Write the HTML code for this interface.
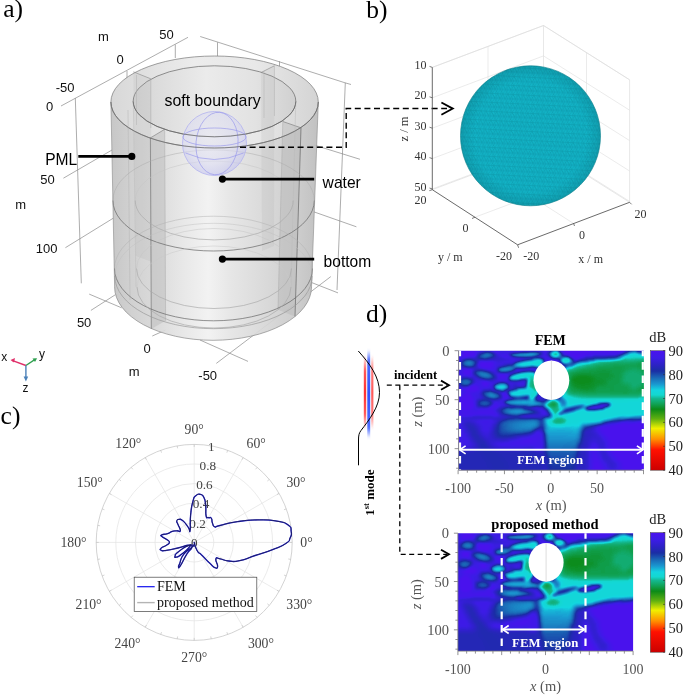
<!DOCTYPE html><html><head><meta charset="utf-8"><style>html,body{margin:0;padding:0;background:#fff;}svg{display:block;} text{opacity:0.999}</style></head><body>
<svg width="685" height="696" viewBox="0 0 685 696">
<rect width="685" height="696" fill="#fff"/>
<text x="3.2" y="16.8" font-family='"Liberation Serif", serif' font-size="25.5" fill="#000" text-anchor="start" font-weight="normal" font-style="normal" >a)</text>
<line x1="61" y1="106" x2="188" y2="37.3" stroke="#8a8a8a" stroke-width="0.7" />
<line x1="200.2" y1="36.5" x2="345" y2="82.8" stroke="#8a8a8a" stroke-width="0.7" />
<line x1="345" y1="82.8" x2="351" y2="84.5" stroke="#8a8a8a" stroke-width="0.7" />
<line x1="75.3" y1="98" x2="81.3" y2="283.3" stroke="#8a8a8a" stroke-width="0.7" />
<line x1="127" y1="71" x2="127" y2="95" stroke="#8a8a8a" stroke-width="0.7" />
<line x1="175.3" y1="44.5" x2="175.3" y2="58" stroke="#8a8a8a" stroke-width="0.7" />
<line x1="217.5" y1="42.3" x2="217.5" y2="56" stroke="#8a8a8a" stroke-width="0.7" />
<line x1="279.5" y1="61.3" x2="279.5" y2="66" stroke="#8a8a8a" stroke-width="0.7" />
<line x1="345.3" y1="82.8" x2="337" y2="290" stroke="#8a8a8a" stroke-width="0.7" />
<line x1="63.4" y1="178.2" x2="112" y2="150" stroke="#8a8a8a" stroke-width="0.7" />
<line x1="65.4" y1="247.7" x2="113.4" y2="218.1" stroke="#8a8a8a" stroke-width="0.7" />
<line x1="90.9" y1="310.4" x2="115.4" y2="294.7" stroke="#8a8a8a" stroke-width="0.7" />
<line x1="314" y1="211.9" x2="356.4" y2="226.8" stroke="#8a8a8a" stroke-width="0.7" />
<line x1="314" y1="145" x2="360" y2="159.3" stroke="#8a8a8a" stroke-width="0.7" />
<line x1="312" y1="282.7" x2="338" y2="292.9" stroke="#8a8a8a" stroke-width="0.7" />
<line x1="89.2" y1="294.1" x2="121.6" y2="307.8" stroke="#8a8a8a" stroke-width="0.7" />
<line x1="216.3" y1="363.4" x2="330.8" y2="276.6" stroke="#8a8a8a" stroke-width="0.7" />
<line x1="200" y1="340" x2="248" y2="361.4" stroke="#8a8a8a" stroke-width="0.7" />
<line x1="152.3" y1="336" x2="165.6" y2="330" stroke="#8a8a8a" stroke-width="0.7" />
<defs>
<linearGradient id="cylg" x1="111" y1="0" x2="318" y2="0" gradientUnits="userSpaceOnUse">
<stop offset="0" stop-color="#c2c2c2"/><stop offset="0.08" stop-color="#cbcbcb"/><stop offset="0.2" stop-color="#d6d6d6"/>
<stop offset="0.35" stop-color="#e6e6e6"/><stop offset="0.47" stop-color="#f1f1f1"/><stop offset="0.58" stop-color="#e4e4e4"/>
<stop offset="0.75" stop-color="#d6d6d6"/><stop offset="0.9" stop-color="#c9c9c9"/><stop offset="1" stop-color="#bcbcbc"/>
</linearGradient>
<linearGradient id="topg" x1="111" y1="0" x2="318" y2="0" gradientUnits="userSpaceOnUse">
<stop offset="0" stop-color="#d8d8d8"/><stop offset="0.4" stop-color="#ececec"/><stop offset="0.7" stop-color="#e8e8e8"/><stop offset="1" stop-color="#d4d4d4"/>
</linearGradient>
<linearGradient id="inng" x1="133" y1="0" x2="296" y2="0" gradientUnits="userSpaceOnUse">
<stop offset="0" stop-color="#d4d4d4"/><stop offset="0.45" stop-color="#ebebeb"/><stop offset="0.75" stop-color="#e2e2e2"/><stop offset="1" stop-color="#d0d0d0"/>
</linearGradient>
<radialGradient id="sphg" cx="0.45" cy="0.4" r="0.6">
<stop offset="0" stop-color="#e8e8f2"/><stop offset="0.7" stop-color="#dadaf0"/><stop offset="1" stop-color="#c4c4ee"/>
</radialGradient>
</defs>
<path d="M110.9,102 L114.6,287 A98.45,53.3 0 0 0 311.5,287 L318.3,102 Z" fill="url(#cylg)" fill-opacity="0.92"/>
<ellipse cx="214.6" cy="102" rx="103.7" ry="46" fill="url(#topg)" stroke="#777" stroke-width="0.7"/>
<ellipse cx="214.5" cy="101.3" rx="81.3" ry="35.5" fill="url(#inng)" stroke="#666" stroke-width="0.7"/>
<path d="M133.3,71.8 L150.8,78.8 L152,262 L136,256 Z" fill="#a8a8a8" fill-opacity="0.16"/>
<path d="M261,72.5 L274.4,65.8 L274,246 L262,251 Z" fill="#a8a8a8" fill-opacity="0.16"/>
<line x1="136.5" y1="75" x2="136.5" y2="125" stroke="#b0b0b0" stroke-width="0.5" />
<line x1="150.8" y1="78.8" x2="150.8" y2="128" stroke="#aaa" stroke-width="0.5" />
<line x1="264" y1="71" x2="264" y2="118" stroke="#b0b0b0" stroke-width="0.5" />
<line x1="274.4" y1="65.8" x2="274.4" y2="116" stroke="#aaa" stroke-width="0.5" />
<path d="M150.4,137.9 L164.7,129.3 L165.6,320.7 L151.3,328.9 Z" fill="#b8b8b8" fill-opacity="0.45"/>
<path d="M282.8,121.5 L301,127.8 L295,316.5 L278,309.8 Z" fill="#b0b0b0" fill-opacity="0.35"/>
<line x1="150.4" y1="137.9" x2="151.3" y2="328.9" stroke="#777" stroke-width="0.7" />
<line x1="164.7" y1="129.3" x2="165.6" y2="320.7" stroke="#aaa" stroke-width="0.5" />
<line x1="301" y1="127.8" x2="295" y2="316.5" stroke="#666" stroke-width="0.7" />
<line x1="282.8" y1="121.5" x2="278" y2="309.8" stroke="#aaa" stroke-width="0.5" />
<line x1="133.3" y1="71.8" x2="150.8" y2="78.8" stroke="#888" stroke-width="0.6" />
<line x1="261" y1="72.5" x2="274.4" y2="65.8" stroke="#888" stroke-width="0.6" />
<line x1="282.8" y1="121.5" x2="301" y2="127.8" stroke="#777" stroke-width="0.6" />
<line x1="150.4" y1="137.9" x2="164.7" y2="129.3" stroke="#777" stroke-width="0.6" />
<line x1="133.3" y1="101" x2="136" y2="287" stroke="#bbb" stroke-width="0.5" />
<line x1="295.8" y1="101" x2="291" y2="287" stroke="#bbb" stroke-width="0.5" />
<line x1="128" y1="110" x2="130" y2="300" stroke="#b5b5b5" stroke-width="0.5" />
<path d="M112.89999999999999,200.5 A100.7,50.5 0 0 1 314.3,200.5" fill="none" stroke="#aaa" stroke-width="0.5"/>
<path d="M112.89999999999999,200.5 A100.7,50.5 0 0 0 314.3,200.5" fill="none" stroke="#666" stroke-width="0.7"/>
<path d="M135.2,200.5 A79,39.4 0 0 1 293.2,200.5" fill="none" stroke="#c4c4c4" stroke-width="0.5"/>
<path d="M135.2,200.5 A79,39.4 0 0 0 293.2,200.5" fill="none" stroke="#aaa" stroke-width="0.7"/>
<path d="M114.5,268.5 A99,52.3 0 0 1 312.5,268.5" fill="none" stroke="#b0b0b0" stroke-width="0.5"/>
<path d="M114.5,268.5 A99,52.3 0 0 0 312.5,268.5" fill="none" stroke="#666" stroke-width="0.7"/>
<path d="M136.5,268.5 A77.5,40 0 0 1 291.5,268.5" fill="none" stroke="#c4c4c4" stroke-width="0.5"/>
<path d="M136.5,268.5 A77.5,40 0 0 0 291.5,268.5" fill="none" stroke="#aaa" stroke-width="0.7"/>
<path d="M137,287 A77,41 0 0 1 291,287" fill="none" stroke="#c8c8c8" stroke-width="0.5"/>
<path d="M137,287 A77,41 0 0 0 291,287" fill="none" stroke="#aaa" stroke-width="0.7"/>
<path d="M114.8,276 A98.7,52.7 0 0 1 312.2,276" fill="none" stroke="#c0c0c0" stroke-width="0.5"/>
<path d="M114.8,276 A98.7,52.7 0 0 0 312.2,276" fill="none" stroke="#999" stroke-width="0.7"/>
<path d="M114.60000000000001,287 A98.45,53.3 0 0 0 311.5,287" fill="none" stroke="#888" stroke-width="0.7"/>
<line x1="110.9" y1="102" x2="114.6" y2="287" stroke="#888" stroke-width="0.6" />
<line x1="318.3" y1="102" x2="311.5" y2="287" stroke="#888" stroke-width="0.6" />
<circle cx="214.5" cy="143.5" r="32" fill="url(#sphg)" fill-opacity="0.62" stroke="#b8b8ee" stroke-width="0.9"/>
<g fill="none" stroke="#9494ec" stroke-width="0.8" stroke-opacity="0.8"><ellipse cx="217" cy="143.5" rx="21" ry="31.3" transform="rotate(5 217 143.5)"/><ellipse cx="214.5" cy="137" rx="31.6" ry="9"/><path d="M185.5,153 Q214,166 243.5,153"/></g>
<path d="M110.89999999999999,102 A103.7,46 0 0 0 318.3,102" fill="none" stroke="#666" stroke-width="0.7"/>
<path d="M133.2,101.3 A81.3,35.5 0 0 0 295.8,101.3" fill="none" stroke="#666" stroke-width="0.7"/>
<text x="164.6" y="106.2" font-family='"Liberation Sans", sans-serif' font-size="16.6" fill="#000" text-anchor="start" font-weight="normal" font-style="normal" textLength="96" lengthAdjust="spacingAndGlyphs">soft boundary</text>
<text x="45.2" y="164.9" font-family='"Liberation Sans", sans-serif' font-size="16.6" fill="#000" text-anchor="start" font-weight="normal" font-style="normal" textLength="32" lengthAdjust="spacingAndGlyphs">PML</text>
<text x="322.6" y="187.7" font-family='"Liberation Sans", sans-serif' font-size="16.6" fill="#000" text-anchor="start" font-weight="normal" font-style="normal" textLength="38.2" lengthAdjust="spacingAndGlyphs">water</text>
<text x="323.6" y="267" font-family='"Liberation Sans", sans-serif' font-size="16.6" fill="#000" text-anchor="start" font-weight="normal" font-style="normal" textLength="47.6" lengthAdjust="spacingAndGlyphs">bottom</text>
<line x1="78.3" y1="156.4" x2="131.8" y2="156.4" stroke="#000" stroke-width="2.6" />
<circle cx="131.8" cy="156.4" r="3.6" fill="#000"/>
<line x1="222.4" y1="179.1" x2="314.2" y2="179.1" stroke="#000" stroke-width="2.6" />
<circle cx="222.4" cy="179.1" r="3.6" fill="#000"/>
<line x1="222.4" y1="259.1" x2="314.2" y2="259.1" stroke="#000" stroke-width="2.6" />
<circle cx="222.4" cy="259.1" r="3.6" fill="#000"/>
<path d="M240,147.3 H346.2 V108.5 H447" fill="none" stroke="#000" stroke-width="1.4" stroke-dasharray="6,3.6"/>
<path d="M441.4,102.5 L452.8,108.6 L441.4,114.7" fill="none" stroke="#000" stroke-width="1.8"/>
<text x="98" y="41" font-family='"Liberation Sans", sans-serif' font-size="13" fill="#111" text-anchor="start" font-weight="normal" font-style="normal" >m</text>
<text x="159.2" y="38.5" font-family='"Liberation Sans", sans-serif' font-size="13" fill="#111" text-anchor="start" font-weight="normal" font-style="normal" >50</text>
<text x="116.6" y="64.4" font-family='"Liberation Sans", sans-serif' font-size="13" fill="#111" text-anchor="start" font-weight="normal" font-style="normal" >0</text>
<text x="55.7" y="92" font-family='"Liberation Sans", sans-serif' font-size="13" fill="#111" text-anchor="start" font-weight="normal" font-style="normal" >-50</text>
<text x="45.9" y="111" font-family='"Liberation Sans", sans-serif' font-size="13" fill="#111" text-anchor="start" font-weight="normal" font-style="normal" >0</text>
<text x="40.3" y="183.8" font-family='"Liberation Sans", sans-serif' font-size="13" fill="#111" text-anchor="start" font-weight="normal" font-style="normal" >50</text>
<text x="15.3" y="208.9" font-family='"Liberation Sans", sans-serif' font-size="13" fill="#111" text-anchor="start" font-weight="normal" font-style="normal" >m</text>
<text x="35.8" y="253.2" font-family='"Liberation Sans", sans-serif' font-size="13" fill="#111" text-anchor="start" font-weight="normal" font-style="normal" >100</text>
<text x="76.9" y="326.7" font-family='"Liberation Sans", sans-serif' font-size="13" fill="#111" text-anchor="start" font-weight="normal" font-style="normal" >50</text>
<text x="143.5" y="352.8" font-family='"Liberation Sans", sans-serif' font-size="13" fill="#111" text-anchor="start" font-weight="normal" font-style="normal" >0</text>
<text x="128.8" y="375.9" font-family='"Liberation Sans", sans-serif' font-size="13" fill="#111" text-anchor="start" font-weight="normal" font-style="normal" >m</text>
<text x="198.3" y="380.2" font-family='"Liberation Sans", sans-serif' font-size="13" fill="#111" text-anchor="start" font-weight="normal" font-style="normal" >-50</text>
<line x1="25.9" y1="365.5" x2="12" y2="360.4" stroke="#e0306a" stroke-width="1.4" />
<path d="M10.5,360 L15,358 L14,362.5 Z" fill="#e0306a"/>
<line x1="25.9" y1="365.5" x2="35.5" y2="359.2" stroke="#30a050" stroke-width="1.4" />
<path d="M37.1,358.2 L32.5,358.5 L35,362 Z" fill="#30a050"/>
<line x1="25.9" y1="365.5" x2="25.9" y2="379" stroke="#4a80b8" stroke-width="1.4" />
<path d="M25.9,381.6 L23.6,376.5 L28.2,376.5 Z" fill="#4a80b8"/>
<text x="1.2" y="360.6" font-family='"Liberation Sans", sans-serif' font-size="12" fill="#111" text-anchor="start" font-weight="normal" font-style="normal" >x</text>
<text x="38.9" y="357.8" font-family='"Liberation Sans", sans-serif' font-size="12" fill="#111" text-anchor="start" font-weight="normal" font-style="normal" >y</text>
<text x="22.6" y="392.2" font-family='"Liberation Sans", sans-serif' font-size="12" fill="#111" text-anchor="start" font-weight="normal" font-style="normal" >z</text>
<text x="366.2" y="17.6" font-family='"Liberation Serif", serif' font-size="25.5" fill="#000" text-anchor="start" font-weight="normal" font-style="normal" >b)</text>
<line x1="432.30" y1="67.40" x2="543.50" y2="25.50" stroke="#dedede" stroke-width="0.7" />
<line x1="543.50" y1="25.50" x2="629.60" y2="79.80" stroke="#dedede" stroke-width="0.7" />
<line x1="543.50" y1="25.50" x2="543.50" y2="148.00" stroke="#dedede" stroke-width="0.7" />
<line x1="543.50" y1="148.00" x2="432.30" y2="189.70" stroke="#dedede" stroke-width="0.7" />
<line x1="543.50" y1="148.00" x2="629.60" y2="202.30" stroke="#dedede" stroke-width="0.7" />
<line x1="629.60" y1="79.80" x2="629.60" y2="202.30" stroke="#dedede" stroke-width="0.7" />
<line x1="432.30" y1="67.40" x2="543.50" y2="25.50" stroke="#dedede" stroke-width="0.6" />
<line x1="543.50" y1="25.50" x2="629.60" y2="79.80" stroke="#dedede" stroke-width="0.6" />
<line x1="432.30" y1="97.80" x2="543.50" y2="55.90" stroke="#dedede" stroke-width="0.6" />
<line x1="543.50" y1="55.90" x2="629.60" y2="110.20" stroke="#dedede" stroke-width="0.6" />
<line x1="432.30" y1="128.20" x2="543.50" y2="86.30" stroke="#dedede" stroke-width="0.6" />
<line x1="543.50" y1="86.30" x2="629.60" y2="140.60" stroke="#dedede" stroke-width="0.6" />
<line x1="432.30" y1="158.60" x2="543.50" y2="116.70" stroke="#dedede" stroke-width="0.6" />
<line x1="543.50" y1="116.70" x2="629.60" y2="171.00" stroke="#dedede" stroke-width="0.6" />
<line x1="432.30" y1="189.00" x2="543.50" y2="147.10" stroke="#dedede" stroke-width="0.6" />
<line x1="543.50" y1="147.10" x2="629.60" y2="201.40" stroke="#dedede" stroke-width="0.6" />
<line x1="488.00" y1="46.50" x2="488.00" y2="168.80" stroke="#dedede" stroke-width="0.6" />
<line x1="586.50" y1="52.50" x2="586.50" y2="175.50" stroke="#dedede" stroke-width="0.6" />
<line x1="475.00" y1="217.20" x2="586.00" y2="175.60" stroke="#dedede" stroke-width="0.6" />
<line x1="573.60" y1="223.50" x2="488.00" y2="168.80" stroke="#dedede" stroke-width="0.6" />
<line x1="432.30" y1="67.40" x2="432.30" y2="189.70" stroke="#444" stroke-width="0.8" />
<line x1="432.30" y1="189.70" x2="517.60" y2="244.80" stroke="#444" stroke-width="0.8" />
<line x1="517.60" y1="244.80" x2="629.60" y2="202.30" stroke="#444" stroke-width="0.8" />
<line x1="432.30" y1="67.40" x2="429.50" y2="66.40" stroke="#444" stroke-width="0.7" />
<line x1="432.30" y1="97.80" x2="429.50" y2="96.80" stroke="#444" stroke-width="0.7" />
<line x1="432.30" y1="128.20" x2="429.50" y2="127.20" stroke="#444" stroke-width="0.7" />
<line x1="432.30" y1="158.60" x2="429.50" y2="157.60" stroke="#444" stroke-width="0.7" />
<line x1="432.30" y1="189.00" x2="429.50" y2="188.00" stroke="#444" stroke-width="0.7" />
<defs><pattern id="tri" width="5.2" height="9" patternUnits="userSpaceOnUse" patternTransform="rotate(3)">
<rect width="5.2" height="9" fill="#12b3c6"/>
<path d="M0,0 H5.2 M0,4.5 H5.2 M0,9 H5.2 M0,0 L2.6,4.5 L5.2,0 M0,9 L2.6,4.5 L5.2,9 M2.6,4.5 L5.2,9 M0,4.5 L2.6,9 M0,4.5 L2.6,0 M2.6,4.5" stroke="#0d96a8" stroke-width="0.45" fill="none"/>
</pattern>
<radialGradient id="sphshade" cx="0.5" cy="0.5" r="0.5"><stop offset="0.8" stop-color="#000" stop-opacity="0"/><stop offset="1" stop-color="#000" stop-opacity="0.10"/></radialGradient>
</defs>
<circle cx="530.5" cy="135.8" r="70" fill="url(#tri)"/>
<circle cx="530.5" cy="135.8" r="70" fill="url(#sphshade)"/>
<circle cx="530.5" cy="135.8" r="70" fill="none" stroke="#0b7d8a" stroke-width="0.6"/>
<text x="426.6" y="69.0" font-family='"Liberation Serif", serif' font-size="12" fill="#333" text-anchor="end" font-weight="normal" font-style="normal" >10</text>
<text x="426.6" y="99.39999999999999" font-family='"Liberation Serif", serif' font-size="12" fill="#333" text-anchor="end" font-weight="normal" font-style="normal" >20</text>
<text x="426.6" y="129.79999999999998" font-family='"Liberation Serif", serif' font-size="12" fill="#333" text-anchor="end" font-weight="normal" font-style="normal" >30</text>
<text x="426.6" y="160.2" font-family='"Liberation Serif", serif' font-size="12" fill="#333" text-anchor="end" font-weight="normal" font-style="normal" >40</text>
<text x="426.6" y="190.59999999999997" font-family='"Liberation Serif", serif' font-size="12" fill="#333" text-anchor="end" font-weight="normal" font-style="normal" >50</text>
<text x="426.6" y="204" font-family='"Liberation Serif", serif' font-size="12" fill="#333" text-anchor="end" font-weight="normal" font-style="normal" >20</text>
<text x="465.5" y="231.5" font-family='"Liberation Serif", serif' font-size="12" fill="#333" text-anchor="middle" font-weight="normal" font-style="normal" >0</text>
<text x="512" y="260" font-family='"Liberation Serif", serif' font-size="12" fill="#333" text-anchor="end" font-weight="normal" font-style="normal" >-20</text>
<text x="523.3" y="260" font-family='"Liberation Serif", serif' font-size="12" fill="#333" text-anchor="start" font-weight="normal" font-style="normal" >-20</text>
<text x="582.1" y="239" font-family='"Liberation Serif", serif' font-size="12" fill="#333" text-anchor="middle" font-weight="normal" font-style="normal" >0</text>
<text x="634.5" y="218.2" font-family='"Liberation Serif", serif' font-size="12" fill="#333" text-anchor="start" font-weight="normal" font-style="normal" >20</text>
<text x="450.3" y="261" font-family='"Liberation Serif", serif' font-size="12" fill="#333" text-anchor="middle" font-weight="normal" font-style="normal" >y / m</text>
<text x="590.7" y="263" font-family='"Liberation Serif", serif' font-size="12" fill="#333" text-anchor="middle" font-weight="normal" font-style="normal" >x / m</text>
<text x="0" y="0" font-family='"Liberation Serif", serif' font-size="12.6" fill="#333" text-anchor="middle" font-weight="normal" font-style="normal" transform="translate(408.3,129) rotate(-90)">z / m</text>
<line x1="432.30" y1="189.70" x2="429.30" y2="190.70" stroke="#444" stroke-width="0.7" />
<line x1="475.00" y1="217.20" x2="472.00" y2="218.50" stroke="#444" stroke-width="0.7" />
<line x1="573.60" y1="223.50" x2="574.50" y2="226.00" stroke="#444" stroke-width="0.7" />
<line x1="517.60" y1="244.80" x2="518.60" y2="247.80" stroke="#444" stroke-width="0.7" />
<line x1="629.60" y1="202.30" x2="631.60" y2="204.30" stroke="#444" stroke-width="0.7" />
<text x="0.6" y="424" font-family='"Liberation Serif", serif' font-size="25.5" fill="#000" text-anchor="start" font-weight="normal" font-style="normal" >c)</text>
<circle cx="194.2" cy="542.4" r="19.60" fill="none" stroke="#e2e2e2" stroke-width="0.7"/>
<circle cx="194.2" cy="542.4" r="39.20" fill="none" stroke="#e2e2e2" stroke-width="0.7"/>
<circle cx="194.2" cy="542.4" r="58.80" fill="none" stroke="#e2e2e2" stroke-width="0.7"/>
<circle cx="194.2" cy="542.4" r="78.40" fill="none" stroke="#e2e2e2" stroke-width="0.7"/>
<line x1="194.20" y1="542.40" x2="292.20" y2="542.40" stroke="#e2e2e2" stroke-width="0.7" />
<line x1="194.20" y1="542.40" x2="279.07" y2="493.40" stroke="#e2e2e2" stroke-width="0.7" />
<line x1="194.20" y1="542.40" x2="243.20" y2="457.53" stroke="#e2e2e2" stroke-width="0.7" />
<line x1="194.20" y1="542.40" x2="194.20" y2="444.40" stroke="#e2e2e2" stroke-width="0.7" />
<line x1="194.20" y1="542.40" x2="145.20" y2="457.53" stroke="#e2e2e2" stroke-width="0.7" />
<line x1="194.20" y1="542.40" x2="109.33" y2="493.40" stroke="#e2e2e2" stroke-width="0.7" />
<line x1="194.20" y1="542.40" x2="96.20" y2="542.40" stroke="#e2e2e2" stroke-width="0.7" />
<line x1="194.20" y1="542.40" x2="109.33" y2="591.40" stroke="#e2e2e2" stroke-width="0.7" />
<line x1="194.20" y1="542.40" x2="145.20" y2="627.27" stroke="#e2e2e2" stroke-width="0.7" />
<line x1="194.20" y1="542.40" x2="194.20" y2="640.40" stroke="#e2e2e2" stroke-width="0.7" />
<line x1="194.20" y1="542.40" x2="243.20" y2="627.27" stroke="#e2e2e2" stroke-width="0.7" />
<line x1="194.20" y1="542.40" x2="279.07" y2="591.40" stroke="#e2e2e2" stroke-width="0.7" />
<circle cx="194.2" cy="542.4" r="98" fill="none" stroke="#c8c8c8" stroke-width="0.8"/>
<line x1="292.20" y1="542.40" x2="289.70" y2="542.40" stroke="#bbb" stroke-width="0.6" />
<line x1="290.71" y1="525.38" x2="288.25" y2="525.82" stroke="#bbb" stroke-width="0.6" />
<line x1="286.29" y1="508.88" x2="283.94" y2="509.74" stroke="#bbb" stroke-width="0.6" />
<line x1="279.07" y1="493.40" x2="276.91" y2="494.65" stroke="#bbb" stroke-width="0.6" />
<line x1="269.27" y1="479.41" x2="267.36" y2="481.01" stroke="#bbb" stroke-width="0.6" />
<line x1="257.19" y1="467.33" x2="255.59" y2="469.24" stroke="#bbb" stroke-width="0.6" />
<line x1="243.20" y1="457.53" x2="241.95" y2="459.69" stroke="#bbb" stroke-width="0.6" />
<line x1="227.72" y1="450.31" x2="226.86" y2="452.66" stroke="#bbb" stroke-width="0.6" />
<line x1="211.22" y1="445.89" x2="210.78" y2="448.35" stroke="#bbb" stroke-width="0.6" />
<line x1="194.20" y1="444.40" x2="194.20" y2="446.90" stroke="#bbb" stroke-width="0.6" />
<line x1="177.18" y1="445.89" x2="177.62" y2="448.35" stroke="#bbb" stroke-width="0.6" />
<line x1="160.68" y1="450.31" x2="161.54" y2="452.66" stroke="#bbb" stroke-width="0.6" />
<line x1="145.20" y1="457.53" x2="146.45" y2="459.69" stroke="#bbb" stroke-width="0.6" />
<line x1="131.21" y1="467.33" x2="132.81" y2="469.24" stroke="#bbb" stroke-width="0.6" />
<line x1="119.13" y1="479.41" x2="121.04" y2="481.01" stroke="#bbb" stroke-width="0.6" />
<line x1="109.33" y1="493.40" x2="111.49" y2="494.65" stroke="#bbb" stroke-width="0.6" />
<line x1="102.11" y1="508.88" x2="104.46" y2="509.74" stroke="#bbb" stroke-width="0.6" />
<line x1="97.69" y1="525.38" x2="100.15" y2="525.82" stroke="#bbb" stroke-width="0.6" />
<line x1="96.20" y1="542.40" x2="98.70" y2="542.40" stroke="#bbb" stroke-width="0.6" />
<line x1="97.69" y1="559.42" x2="100.15" y2="558.98" stroke="#bbb" stroke-width="0.6" />
<line x1="102.11" y1="575.92" x2="104.46" y2="575.06" stroke="#bbb" stroke-width="0.6" />
<line x1="109.33" y1="591.40" x2="111.49" y2="590.15" stroke="#bbb" stroke-width="0.6" />
<line x1="119.13" y1="605.39" x2="121.04" y2="603.79" stroke="#bbb" stroke-width="0.6" />
<line x1="131.21" y1="617.47" x2="132.81" y2="615.56" stroke="#bbb" stroke-width="0.6" />
<line x1="145.20" y1="627.27" x2="146.45" y2="625.11" stroke="#bbb" stroke-width="0.6" />
<line x1="160.68" y1="634.49" x2="161.54" y2="632.14" stroke="#bbb" stroke-width="0.6" />
<line x1="177.18" y1="638.91" x2="177.62" y2="636.45" stroke="#bbb" stroke-width="0.6" />
<line x1="194.20" y1="640.40" x2="194.20" y2="637.90" stroke="#bbb" stroke-width="0.6" />
<line x1="211.22" y1="638.91" x2="210.78" y2="636.45" stroke="#bbb" stroke-width="0.6" />
<line x1="227.72" y1="634.49" x2="226.86" y2="632.14" stroke="#bbb" stroke-width="0.6" />
<line x1="243.20" y1="627.27" x2="241.95" y2="625.11" stroke="#bbb" stroke-width="0.6" />
<line x1="257.19" y1="617.47" x2="255.59" y2="615.56" stroke="#bbb" stroke-width="0.6" />
<line x1="269.27" y1="605.39" x2="267.36" y2="603.79" stroke="#bbb" stroke-width="0.6" />
<line x1="279.07" y1="591.40" x2="276.91" y2="590.15" stroke="#bbb" stroke-width="0.6" />
<line x1="286.29" y1="575.92" x2="283.94" y2="575.06" stroke="#bbb" stroke-width="0.6" />
<line x1="290.71" y1="559.42" x2="288.25" y2="558.98" stroke="#bbb" stroke-width="0.6" />
<text x="194.2" y="434.1" font-family='"Liberation Serif", serif' font-size="13.7" fill="#444" text-anchor="middle" font-weight="normal" font-style="normal" >90°</text>
<text x="128.3" y="448.4" font-family='"Liberation Serif", serif' font-size="13.7" fill="#444" text-anchor="middle" font-weight="normal" font-style="normal" >120°</text>
<text x="256.2" y="448.4" font-family='"Liberation Serif", serif' font-size="13.7" fill="#444" text-anchor="middle" font-weight="normal" font-style="normal" >60°</text>
<text x="89.8" y="487.3" font-family='"Liberation Serif", serif' font-size="13.7" fill="#444" text-anchor="middle" font-weight="normal" font-style="normal" >150°</text>
<text x="296.0" y="487.0" font-family='"Liberation Serif", serif' font-size="13.7" fill="#444" text-anchor="middle" font-weight="normal" font-style="normal" >30°</text>
<text x="73.5" y="547.2" font-family='"Liberation Serif", serif' font-size="13.7" fill="#444" text-anchor="middle" font-weight="normal" font-style="normal" >180°</text>
<text x="306.5" y="547.4" font-family='"Liberation Serif", serif' font-size="13.7" fill="#444" text-anchor="middle" font-weight="normal" font-style="normal" >0°</text>
<text x="88.6" y="608.6" font-family='"Liberation Serif", serif' font-size="13.7" fill="#444" text-anchor="middle" font-weight="normal" font-style="normal" >210°</text>
<text x="299.3" y="608.6" font-family='"Liberation Serif", serif' font-size="13.7" fill="#444" text-anchor="middle" font-weight="normal" font-style="normal" >330°</text>
<text x="127.5" y="648.3" font-family='"Liberation Serif", serif' font-size="13.7" fill="#444" text-anchor="middle" font-weight="normal" font-style="normal" >240°</text>
<text x="260.9" y="648.3" font-family='"Liberation Serif", serif' font-size="13.7" fill="#444" text-anchor="middle" font-weight="normal" font-style="normal" >300°</text>
<text x="194.2" y="661.6" font-family='"Liberation Serif", serif' font-size="13.7" fill="#444" text-anchor="middle" font-weight="normal" font-style="normal" >270°</text>
<text x="194.2" y="547.0" font-family='"Liberation Serif", serif' font-size="13.2" fill="#444" text-anchor="middle" font-weight="normal" font-style="normal" >0</text>
<text x="197.6" y="527.7" font-family='"Liberation Serif", serif' font-size="13.2" fill="#444" text-anchor="middle" font-weight="normal" font-style="normal" >0.2</text>
<text x="201.0" y="508.4" font-family='"Liberation Serif", serif' font-size="13.2" fill="#444" text-anchor="middle" font-weight="normal" font-style="normal" >0.4</text>
<text x="204.4" y="489.1" font-family='"Liberation Serif", serif' font-size="13.2" fill="#444" text-anchor="middle" font-weight="normal" font-style="normal" >0.6</text>
<text x="207.8" y="469.8" font-family='"Liberation Serif", serif' font-size="13.2" fill="#444" text-anchor="middle" font-weight="normal" font-style="normal" >0.8</text>
<text x="211.2" y="450.5" font-family='"Liberation Serif", serif' font-size="13.2" fill="#444" text-anchor="middle" font-weight="normal" font-style="normal" >1</text>
<path d="M190.1,530.2 C190.8,526.6 189.8,523.9 190.6,515.3 C191.4,506.7 191.3,507.4 192.9,501.5 C194.5,495.6 193.6,497.8 195.8,495.7 C198.1,493.6 198.0,493.9 200.4,494.4 C202.8,494.9 202.3,494.4 203.9,497.5 C205.5,500.6 204.9,499.4 205.6,504.9 C206.3,510.4 205.3,512.1 206.1,515.9 C206.9,519.7 206.8,516.9 208.4,517.6 C210.0,518.3 210.1,516.5 211.3,518.2 C212.5,519.9 211.4,520.7 212.5,523.3 C213.6,525.9 212.6,526.1 214.8,526.8 C217.1,527.5 213.2,527.1 220.0,525.5 C226.8,523.9 225.8,523.3 237.6,521.6 C249.4,519.9 247.7,520.0 259.5,519.9 C271.3,519.8 268.4,519.7 277.0,521.2 C285.6,522.7 283.7,521.8 288.0,524.9 C292.3,528.0 290.6,527.6 291.2,531.5 C291.8,535.4 291.7,534.4 290.1,538.0 C288.5,541.6 291.1,540.0 285.8,543.5 C280.6,547.0 281.8,546.0 272.6,549.6 C263.4,553.2 264.9,552.2 255.1,555.5 C245.3,558.8 247.7,559.0 239.8,560.6 C231.9,562.2 234.7,561.5 228.8,561.0 C222.9,560.5 223.9,559.4 220.0,558.8 C216.1,558.2 216.6,556.7 215.9,559.0 C215.2,561.3 217.9,563.8 217.6,566.4 C217.3,569.0 217.0,568.4 214.8,567.6 C212.6,566.8 213.3,566.5 210.2,563.6 C207.1,560.7 207.3,560.7 204.4,557.8 C201.5,554.9 202.3,555.5 200.4,553.8 C198.5,552.1 199.7,554.4 198.1,552.1 C196.5,549.9 196.4,549.2 195.2,546.3 C194.0,543.4 194.9,542.4 194.2,542.4 C193.5,542.4 196.1,542.7 192.9,546.3 C189.8,549.9 187.7,549.2 183.7,554.4 C179.7,559.6 181.2,560.0 179.7,563.6 C178.2,567.2 178.4,565.7 178.6,566.4 C178.8,567.1 177.9,569.5 180.3,565.9 C182.7,562.3 183.2,559.9 186.6,554.4 C190.0,548.9 191.3,550.1 191.8,547.5 C192.3,544.9 192.4,544.3 188.3,545.7 C184.2,547.1 182.0,549.0 178.0,552.1 C174.0,555.2 175.6,554.6 175.1,556.1 C174.6,557.6 174.4,557.7 176.3,557.2 C178.2,556.7 177.4,557.5 181.4,554.4 C185.4,551.3 187.4,549.7 189.5,546.9 C191.6,544.1 191.8,544.9 188.3,545.2 C184.9,545.5 184.5,546.5 178.0,548.0 C171.5,549.5 171.5,549.6 166.5,550.3 C161.5,551.0 162.9,551.0 161.3,550.3 C159.7,549.6 159.7,549.5 161.3,548.0 C162.9,546.5 164.1,546.9 166.5,545.2 C168.9,543.5 169.4,544.0 169.4,542.3 C169.4,540.6 168.8,541.1 166.5,539.4 C164.2,537.7 163.3,538.0 161.9,536.6 C160.5,535.2 160.2,535.7 161.9,534.8 C163.6,533.9 164.5,534.7 167.6,533.7 C170.7,532.7 169.4,532.3 172.2,531.4 C175.0,530.5 174.4,531.0 176.8,530.8 C179.2,530.6 179.9,532.7 180.3,530.8 C180.7,528.9 179.1,527.4 178.0,524.5 C176.9,521.6 176.5,522.6 176.8,521.0 C177.1,519.4 177.2,519.3 179.1,519.3 C181.0,519.3 180.4,518.6 183.2,521.0 C186.0,523.4 186.2,524.6 188.3,527.4 C190.4,530.2 189.4,533.8 190.1,530.2Z" fill="none" stroke="#2222dd" stroke-width="1.35" stroke-linejoin="round"/>
<path d="M190.1,530.2 C190.8,526.6 189.8,523.9 190.6,515.3 C191.4,506.7 191.3,507.4 192.9,501.5 C194.5,495.6 193.6,497.8 195.8,495.7 C198.1,493.6 198.0,493.9 200.4,494.4 C202.8,494.9 202.3,494.4 203.9,497.5 C205.5,500.6 204.9,499.4 205.6,504.9 C206.3,510.4 205.3,512.1 206.1,515.9 C206.9,519.7 206.8,516.9 208.4,517.6 C210.0,518.3 210.1,516.5 211.3,518.2 C212.5,519.9 211.4,520.7 212.5,523.3 C213.6,525.9 212.6,526.1 214.8,526.8 C217.1,527.5 213.2,527.1 220.0,525.5 C226.8,523.9 225.8,523.3 237.6,521.6 C249.4,519.9 247.7,520.0 259.5,519.9 C271.3,519.8 268.4,519.7 277.0,521.2 C285.6,522.7 283.7,521.8 288.0,524.9 C292.3,528.0 290.6,527.6 291.2,531.5 C291.8,535.4 291.7,534.4 290.1,538.0 C288.5,541.6 291.1,540.0 285.8,543.5 C280.6,547.0 281.8,546.0 272.6,549.6 C263.4,553.2 264.9,552.2 255.1,555.5 C245.3,558.8 247.7,559.0 239.8,560.6 C231.9,562.2 234.7,561.5 228.8,561.0 C222.9,560.5 223.9,559.4 220.0,558.8 C216.1,558.2 216.6,556.7 215.9,559.0 C215.2,561.3 217.9,563.8 217.6,566.4 C217.3,569.0 217.0,568.4 214.8,567.6 C212.6,566.8 213.3,566.5 210.2,563.6 C207.1,560.7 207.3,560.7 204.4,557.8 C201.5,554.9 202.3,555.5 200.4,553.8 C198.5,552.1 199.7,554.4 198.1,552.1 C196.5,549.9 196.4,549.2 195.2,546.3 C194.0,543.4 194.9,542.4 194.2,542.4 C193.5,542.4 196.1,542.7 192.9,546.3 C189.8,549.9 187.7,549.2 183.7,554.4 C179.7,559.6 181.2,560.0 179.7,563.6 C178.2,567.2 178.4,565.7 178.6,566.4 C178.8,567.1 177.9,569.5 180.3,565.9 C182.7,562.3 183.2,559.9 186.6,554.4 C190.0,548.9 191.3,550.1 191.8,547.5 C192.3,544.9 192.4,544.3 188.3,545.7 C184.2,547.1 182.0,549.0 178.0,552.1 C174.0,555.2 175.6,554.6 175.1,556.1 C174.6,557.6 174.4,557.7 176.3,557.2 C178.2,556.7 177.4,557.5 181.4,554.4 C185.4,551.3 187.4,549.7 189.5,546.9 C191.6,544.1 191.8,544.9 188.3,545.2 C184.9,545.5 184.5,546.5 178.0,548.0 C171.5,549.5 171.5,549.6 166.5,550.3 C161.5,551.0 162.9,551.0 161.3,550.3 C159.7,549.6 159.7,549.5 161.3,548.0 C162.9,546.5 164.1,546.9 166.5,545.2 C168.9,543.5 169.4,544.0 169.4,542.3 C169.4,540.6 168.8,541.1 166.5,539.4 C164.2,537.7 163.3,538.0 161.9,536.6 C160.5,535.2 160.2,535.7 161.9,534.8 C163.6,533.9 164.5,534.7 167.6,533.7 C170.7,532.7 169.4,532.3 172.2,531.4 C175.0,530.5 174.4,531.0 176.8,530.8 C179.2,530.6 179.9,532.7 180.3,530.8 C180.7,528.9 179.1,527.4 178.0,524.5 C176.9,521.6 176.5,522.6 176.8,521.0 C177.1,519.4 177.2,519.3 179.1,519.3 C181.0,519.3 180.4,518.6 183.2,521.0 C186.0,523.4 186.2,524.6 188.3,527.4 C190.4,530.2 189.4,533.8 190.1,530.2Z" fill="none" stroke="#1c1c40" stroke-width="0.8" stroke-linejoin="round"/>
<rect x="134.2" y="577.2" width="122.6" height="34.2" fill="#fff" stroke="#444" stroke-width="0.7"/>
<line x1="137.20" y1="586.70" x2="154.70" y2="586.70" stroke="#1010ee" stroke-width="1.2" />
<line x1="137.20" y1="602.60" x2="154.70" y2="602.60" stroke="#b4b4b4" stroke-width="1.4" />
<text x="157" y="591.3" font-family='"Liberation Serif", serif' font-size="14" fill="#111" text-anchor="start" font-weight="normal" font-style="normal" >FEM</text>
<text x="157" y="607" font-family='"Liberation Serif", serif' font-size="14" fill="#111" text-anchor="start" font-weight="normal" font-style="normal" >proposed method</text>
<defs><filter id="gb1" x="-20%" y="-20%" width="140%" height="140%" color-interpolation-filters="sRGB"><feGaussianBlur stdDeviation="1.1"/></filter><filter id="gb3" x="-20%" y="-20%" width="140%" height="140%" color-interpolation-filters="sRGB"><feGaussianBlur stdDeviation="3.5"/></filter><filter id="gb15" x="-20%" y="-20%" width="140%" height="140%" color-interpolation-filters="sRGB"><feGaussianBlur stdDeviation="1.6"/></filter><filter id="gb13" x="-20%" y="-20%" width="140%" height="140%" color-interpolation-filters="sRGB"><feGaussianBlur stdDeviation="1.3"/></filter><filter id="gb2" x="-20%" y="-20%" width="140%" height="140%" color-interpolation-filters="sRGB"><feGaussianBlur stdDeviation="2.2"/></filter><filter id="cmap" x="0" y="0" width="1" height="1" color-interpolation-filters="sRGB"><feTurbulence type="fractalNoise" baseFrequency="0.03 0.06" numOctaves="1" seed="7" result="t"/><feDisplacementMap in="SourceGraphic" in2="t" scale="7" xChannelSelector="R" yChannelSelector="G" result="d"/><feGaussianBlur in="d" stdDeviation="0.9" result="d2"/><feComponentTransfer in="d2"><feFuncR type="table" tableValues="0.290 0.281 0.272 0.263 0.254 0.244 0.235 0.225 0.214 0.204 0.193 0.183 0.173 0.158 0.144 0.130 0.116 0.102 0.102 0.102 0.102 0.102 0.102 0.102 0.102 0.102 0.102 0.102 0.102 0.097 0.093 0.088 0.083 0.078 0.078 0.078 0.078 0.078 0.078 0.078 0.078 0.075 0.072 0.069 0.066 0.063 0.059 0.055 0.051 0.047 0.088 0.129 0.171 0.212 0.253 0.294 0.335 0.376 0.447 0.518 0.588 0.659 0.729 0.800 0.871 0.941 0.948 0.954 0.961 0.967 0.974 0.980 0.987 0.993 1.000 1.000 1.000 1.000 1.000 1.000 1.000 1.000 1.000 1.000 0.988 0.976 0.965 0.953 0.941 0.929 0.918 0.906 0.894 0.882 0.871 0.859 0.847 0.835 0.824 0.812 0.800"/><feFuncG type="table" tableValues="0.071 0.077 0.084 0.090 0.097 0.103 0.110 0.114 0.118 0.122 0.125 0.129 0.133 0.143 0.152 0.162 0.171 0.180 0.221 0.261 0.302 0.342 0.383 0.424 0.458 0.493 0.527 0.562 0.596 0.645 0.693 0.742 0.791 0.839 0.841 0.843 0.845 0.847 0.805 0.763 0.722 0.703 0.684 0.665 0.646 0.627 0.606 0.584 0.563 0.541 0.560 0.578 0.597 0.616 0.634 0.653 0.672 0.690 0.722 0.753 0.784 0.816 0.847 0.878 0.910 0.941 0.899 0.858 0.816 0.774 0.732 0.690 0.648 0.607 0.565 0.509 0.453 0.397 0.342 0.286 0.230 0.174 0.119 0.063 0.059 0.055 0.052 0.048 0.044 0.041 0.037 0.033 0.030 0.026 0.022 0.018 0.015 0.011 0.007 0.004 0.000"/><feFuncB type="table" tableValues="0.933 0.928 0.923 0.918 0.912 0.907 0.902 0.880 0.858 0.835 0.813 0.791 0.769 0.744 0.718 0.693 0.668 0.643 0.656 0.669 0.682 0.695 0.708 0.722 0.740 0.759 0.778 0.797 0.816 0.828 0.841 0.853 0.866 0.878 0.863 0.847 0.831 0.816 0.732 0.648 0.565 0.515 0.464 0.414 0.364 0.314 0.259 0.204 0.149 0.094 0.090 0.086 0.082 0.078 0.075 0.071 0.067 0.063 0.055 0.047 0.039 0.031 0.024 0.016 0.008 0.000 0.000 0.000 0.000 0.000 0.000 0.000 0.000 0.000 0.000 0.000 0.000 0.000 0.000 0.000 0.000 0.000 0.000 0.000 0.000 0.000 0.000 0.000 0.000 0.000 0.000 0.000 0.000 0.000 0.000 0.000 0.000 0.000 0.000 0.000 0.000"/></feComponentTransfer></filter><filter id="mblur" x="-50%" y="-10%" width="200%" height="120%"><feGaussianBlur stdDeviation="0.6 1.5"/></filter></defs>
<text x="366" y="322.2" font-family='"Liberation Serif", serif' font-size="25.5" fill="#000" text-anchor="start" font-weight="normal" font-style="normal" >d)</text>
<clipPath id="clip1"><rect x="458.6" y="350.7" width="185.29999999999995" height="119.5"/></clipPath>
<g clip-path="url(#clip1)"><g transform="translate(458.6,350.7) scale(1.00000,1.00000) translate(-458.6,-350.7)">
<g id="heatsrc" filter="url(#cmap)"><rect x="440" y="340" width="220" height="140" fill="#000"/>
<linearGradient id="colg" x1="0" y1="416" x2="0" y2="474" gradientUnits="userSpaceOnUse"><stop offset="0" stop-color="#5c5c5c"/><stop offset="0.2" stop-color="#4f4f4f"/><stop offset="0.45" stop-color="#424242"/><stop offset="0.65" stop-color="#363636"/><stop offset="1" stop-color="#292929"/></linearGradient>
<linearGradient id="fang" x1="542" y1="417" x2="492" y2="440" gradientUnits="userSpaceOnUse"><stop offset="0" stop-color="#4a4a4a"/><stop offset="0.5" stop-color="#414141"/><stop offset="1" stop-color="#292929"/></linearGradient>
<g filter="url(#gb3)">
<rect x="450" y="344" width="98" height="68" fill="#121212"/>
<polygon points="452,446 548,446 548,476 452,476" fill="#242424"/>
<polygon points="452,420 498,418 490,448 452,448" fill="#0d0d0d"/>
<polygon points="500,417 542,416 542,432 490,441" fill="url(#fang)"/>
<polygon points="575,420 590,426 590,476 574,476" fill="#212121"/>
<polygon points="460,421 474,421 512,472 494,472" fill="#262626"/>
<polygon points="584,424 594,424 622,472 608,472" fill="#1c1c1c"/>
</g>
<g filter="url(#gb2)">
<polygon points="543,416 582,416 576,476 547,476" fill="url(#colg)"/>
<ellipse cx="538" cy="440" rx="5" ry="11" fill="#0a0a0a"/>
</g>
<g filter="url(#gb15)">
<ellipse cx="469" cy="353.5" rx="8.5" ry="4" fill="#000000"/>
<ellipse cx="486" cy="365" rx="8.5" ry="4.5" fill="#000000"/>
<ellipse cx="468.5" cy="371.5" rx="6.5" ry="4.5" fill="#000000"/>
<ellipse cx="485.5" cy="384" rx="4" ry="4" fill="#000000"/>
<ellipse cx="471" cy="389.5" rx="9" ry="4" fill="#000000"/>
<ellipse cx="502" cy="376.3" rx="4.6" ry="2.6" fill="#000000"/>
<ellipse cx="504" cy="395.3" rx="4" ry="3.3" fill="#000000"/>
<ellipse cx="466" cy="402" rx="8" ry="8" fill="#000000"/>
<ellipse cx="489" cy="407" rx="8.5" ry="3" fill="#000000"/>
<ellipse cx="492.5" cy="353" rx="4.5" ry="3.5" fill="#000000"/>
<ellipse cx="507" cy="358.5" rx="6" ry="2" fill="#000000"/>
</g>
<g filter="url(#gb2)">
</g><g filter="url(#gb13)">
<ellipse cx="526" cy="355.3" rx="15.5" ry="2.6" fill="#4f4f4f"/>
<ellipse cx="506" cy="369.2" rx="10" ry="3" fill="#454545" transform="rotate(-8 506 369.2)"/>
<ellipse cx="529" cy="364.2" rx="15" ry="3" fill="#595959" transform="rotate(-8 529 364.2)"/>
<ellipse cx="538" cy="364" rx="6" ry="3.5" fill="#5c5c5c"/>
<ellipse cx="521.5" cy="376" rx="14" ry="3.8" fill="#5c5c5c" transform="rotate(-10 521.5 376)"/>
<ellipse cx="532" cy="387" rx="5.5" ry="13" fill="#636363"/>
<ellipse cx="534" cy="386" rx="3.5" ry="7" fill="#6b6b6b"/>
<ellipse cx="502" cy="386.2" rx="7" ry="3.2" fill="#575757"/>
<ellipse cx="520.4" cy="392.5" rx="14" ry="4.5" fill="#575757" transform="rotate(-5 520.4 392.5)"/>
<ellipse cx="524" cy="402.5" rx="20" ry="3.5" fill="#4c4c4c"/>
<ellipse cx="524" cy="369.7" rx="12" ry="1.6" fill="#0d0d0d" transform="rotate(-8 524 369.7)"/>
<ellipse cx="515" cy="386.3" rx="2.8" ry="2.4" fill="#1f1f1f"/>
<ellipse cx="506.4" cy="394.7" rx="4.5" ry="2.6" fill="#050505"/>
</g>
<g filter="url(#gb2)">
<path d="M560,371 C570,360 585,358 600,358 C615,357 630,354 655,352 L655,403 C630,403 610,402 590,403 C575,403 565,402 560,398 Z" fill="#5b5b5b"/>
<path d="M566,372 C575,364 588,362 602,361.5 C618,360.5 632,358.5 655,357.5 L655,398 C630,398 610,398 592,398 C578,398 570,396 566,393 Z" fill="#6a6a6a"/>
<path d="M568,374 C578,367 590,365.5 602,365 C618,364 632,362 655,361 L655,395 C630,395 610,395 592,395 C580,395 572,393 568,390 Z" fill="#747474"/>
<ellipse cx="588" cy="382" rx="17" ry="9" fill="#797979"/>
<ellipse cx="582" cy="381" rx="12" ry="6.5" fill="#7c7c7c"/>
<ellipse cx="633" cy="379" rx="12" ry="11" fill="#6c6c6c"/>
<ellipse cx="604" cy="374.5" rx="9" ry="4.5" fill="#777777"/>
<ellipse cx="622" cy="387" rx="9" ry="4.5" fill="#737373"/>
<ellipse cx="602" cy="389" rx="7" ry="3.5" fill="#737373"/>
<path d="M552,401 C580,401 610,401 655,401 L655,418 C635,418 620,420 608,423 C595,426 580,427 552,427 Z" fill="#595959"/>
<ellipse cx="636" cy="354" rx="11" ry="3.5" fill="#5c5c5c"/>
<ellipse cx="632" cy="406" rx="16" ry="6" fill="#595959"/>
<ellipse cx="552.5" cy="402.5" rx="8" ry="5" fill="#777777"/>
<ellipse cx="556" cy="411" rx="7.5" ry="3" fill="#6e6e6e"/>
<ellipse cx="558" cy="421.5" rx="8" ry="3.5" fill="#707070"/>
<ellipse cx="563" cy="404" rx="3" ry="2" fill="#262626"/>
</g>
<g filter="url(#gb1)">
<radialGradient id="rg0"><stop offset="0" stop-color="#404040" stop-opacity="1"/><stop offset="0.3" stop-color="#3e3e3e" stop-opacity="1"/><stop offset="0.55" stop-color="#343434" stop-opacity="1"/><stop offset="0.72" stop-color="#2a2a2a" stop-opacity="1"/><stop offset="0.86" stop-color="#242424" stop-opacity="0.75"/><stop offset="1" stop-color="#191919" stop-opacity="0"/></radialGradient><ellipse cx="486.5" cy="356.6" rx="11.70" ry="5.80" fill="url(#rg0)"/>
<radialGradient id="rg1"><stop offset="0" stop-color="#424242" stop-opacity="1"/><stop offset="0.3" stop-color="#414141" stop-opacity="1"/><stop offset="0.55" stop-color="#353535" stop-opacity="1"/><stop offset="0.72" stop-color="#2a2a2a" stop-opacity="1"/><stop offset="0.86" stop-color="#242424" stop-opacity="0.75"/><stop offset="1" stop-color="#191919" stop-opacity="0"/></radialGradient><ellipse cx="469.4" cy="363.2" rx="11.70" ry="6.00" fill="url(#rg1)"/>
<radialGradient id="rg2"><stop offset="0" stop-color="#424242" stop-opacity="1"/><stop offset="0.3" stop-color="#414141" stop-opacity="1"/><stop offset="0.55" stop-color="#353535" stop-opacity="1"/><stop offset="0.72" stop-color="#2a2a2a" stop-opacity="1"/><stop offset="0.86" stop-color="#242424" stop-opacity="0.75"/><stop offset="1" stop-color="#191919" stop-opacity="0"/></radialGradient><ellipse cx="483.9" cy="375.4" rx="14.20" ry="6.40" fill="url(#rg2)" transform="rotate(17 483.9 375.4)"/>
<radialGradient id="rg3"><stop offset="0" stop-color="#3d3d3d" stop-opacity="1"/><stop offset="0.3" stop-color="#3c3c3c" stop-opacity="1"/><stop offset="0.55" stop-color="#333333" stop-opacity="1"/><stop offset="0.72" stop-color="#2a2a2a" stop-opacity="1"/><stop offset="0.86" stop-color="#242424" stop-opacity="0.75"/><stop offset="1" stop-color="#191919" stop-opacity="0"/></radialGradient><ellipse cx="465.9" cy="382.2" rx="9.70" ry="5.80" fill="url(#rg3)"/>
<radialGradient id="rg4"><stop offset="0" stop-color="#454545" stop-opacity="1"/><stop offset="0.3" stop-color="#434343" stop-opacity="1"/><stop offset="0.55" stop-color="#363636" stop-opacity="1"/><stop offset="0.72" stop-color="#2a2a2a" stop-opacity="1"/><stop offset="0.86" stop-color="#242424" stop-opacity="0.75"/><stop offset="1" stop-color="#191919" stop-opacity="0"/></radialGradient><ellipse cx="492.2" cy="395.2" rx="13.00" ry="6.20" fill="url(#rg4)"/>
<radialGradient id="rg5"><stop offset="0" stop-color="#383838" stop-opacity="1"/><stop offset="0.3" stop-color="#373737" stop-opacity="1"/><stop offset="0.55" stop-color="#303030" stop-opacity="1"/><stop offset="0.72" stop-color="#2a2a2a" stop-opacity="1"/><stop offset="0.86" stop-color="#242424" stop-opacity="0.75"/><stop offset="1" stop-color="#191919" stop-opacity="0"/></radialGradient><ellipse cx="483.9" cy="404.4" rx="9.90" ry="5.20" fill="url(#rg5)"/>
<radialGradient id="rg6"><stop offset="0" stop-color="#4a4a4a" stop-opacity="1"/><stop offset="0.3" stop-color="#484848" stop-opacity="1"/><stop offset="0.55" stop-color="#383838" stop-opacity="1"/><stop offset="0.72" stop-color="#2a2a2a" stop-opacity="1"/><stop offset="0.86" stop-color="#242424" stop-opacity="0.75"/><stop offset="1" stop-color="#191919" stop-opacity="0"/></radialGradient><ellipse cx="518" cy="411.6" rx="26.20" ry="5.80" fill="url(#rg6)"/>
<radialGradient id="rg7"><stop offset="0" stop-color="#6b6b6b" stop-opacity="1"/><stop offset="0.3" stop-color="#696969" stop-opacity="1"/><stop offset="0.55" stop-color="#474747" stop-opacity="1"/><stop offset="0.72" stop-color="#2a2a2a" stop-opacity="1"/><stop offset="0.86" stop-color="#242424" stop-opacity="0.75"/><stop offset="1" stop-color="#191919" stop-opacity="0"/></radialGradient><ellipse cx="555" cy="355.3" rx="10.20" ry="6.00" fill="url(#rg7)"/>
<radialGradient id="rg8"><stop offset="0" stop-color="#666666" stop-opacity="1"/><stop offset="0.3" stop-color="#646464" stop-opacity="1"/><stop offset="0.55" stop-color="#454545" stop-opacity="1"/><stop offset="0.72" stop-color="#2a2a2a" stop-opacity="1"/><stop offset="0.86" stop-color="#242424" stop-opacity="0.75"/><stop offset="1" stop-color="#191919" stop-opacity="0"/></radialGradient><ellipse cx="566" cy="360.5" rx="10.20" ry="5.80" fill="url(#rg8)"/>
</g>
<g filter="url(#gb1)">
<ellipse cx="603" cy="353.5" rx="18" ry="3.3" fill="#050505"/>
<ellipse cx="600" cy="358.5" rx="22" ry="2" fill="#262626"/>
<ellipse cx="480" cy="418.5" rx="28" ry="2" fill="#1f1f1f"/>
<ellipse cx="531" cy="416.3" rx="12" ry="1.8" fill="#141414"/>
<ellipse cx="543" cy="397.5" rx="5" ry="1.6" fill="#242424"/>
<ellipse cx="500" cy="360" rx="14" ry="1.4" fill="#1f1f1f"/>
<ellipse cx="599" cy="406" rx="12" ry="2.3" fill="#050505" transform="rotate(-8 599 406)"/>
<ellipse cx="572" cy="409.5" rx="15" ry="2.1" fill="#212121" transform="rotate(-14 572 409.5)"/>
</g></g>
</g></g>
<ellipse cx="551.4" cy="380.3" rx="17.9" ry="19.7" fill="#fff"/>
<line x1="551.40" y1="360.60" x2="551.40" y2="400.00" stroke="#d0d0d0" stroke-width="0.7" />
<line x1="460" y1="350.7" x2="460" y2="470.2" stroke="#fff" stroke-width="2.2" stroke-dasharray="7.6,5.8" stroke-dashoffset="2"/>
<line x1="642.8" y1="350.7" x2="642.8" y2="470.2" stroke="#fff" stroke-width="2.2" stroke-dasharray="7.6,5.8" stroke-dashoffset="2"/>
<line x1="459.6" y1="449.8" x2="642.9" y2="449.8" stroke="#fff" stroke-width="2"/>
<path d="M465.6,445.8 L459.6,449.8 L465.6,453.8" fill="none" stroke="#fff" stroke-width="1.6"/>
<path d="M636.9,445.8 L642.9,449.8 L636.9,453.8" fill="none" stroke="#fff" stroke-width="1.6"/>
<text x="550" y="463.8" font-family='"Liberation Serif", serif' font-size="12.8" fill="#fff" text-anchor="middle" font-weight="bold" font-style="normal" >FEM region</text>
<clipPath id="clip2"><rect x="457.9" y="533.2" width="175.20000000000005" height="117.89999999999998"/></clipPath>
<g clip-path="url(#clip2)"><g transform="translate(457.9,533.2) scale(0.94549,0.98661) translate(-458.6,-350.7)">
<use href="#heatsrc"/>
</g></g>
<ellipse cx="546.1" cy="562.4" rx="17.5" ry="19.4" fill="#fff"/>
<line x1="546.10" y1="543.00" x2="546.10" y2="581.80" stroke="#d0d0d0" stroke-width="0.7" />
<line x1="501.7" y1="533.2" x2="501.7" y2="651.1" stroke="#fff" stroke-width="2.2" stroke-dasharray="7.6,5.8" stroke-dashoffset="2"/>
<line x1="585.5" y1="533.2" x2="585.5" y2="651.1" stroke="#fff" stroke-width="2.2" stroke-dasharray="7.6,5.8" stroke-dashoffset="2"/>
<line x1="502.7" y1="629.5" x2="584.5" y2="629.5" stroke="#fff" stroke-width="2"/>
<path d="M508.7,625.5 L502.7,629.5 L508.7,633.5" fill="none" stroke="#fff" stroke-width="1.6"/>
<path d="M578.5,625.5 L584.5,629.5 L578.5,633.5" fill="none" stroke="#fff" stroke-width="1.6"/>
<text x="545.2" y="646.5" font-family='"Liberation Serif", serif' font-size="12.8" fill="#fff" text-anchor="middle" font-weight="bold" font-style="normal" >FEM region</text>
<line x1="458.60" y1="350.70" x2="458.60" y2="470.20" stroke="#777" stroke-width="0.8" />
<line x1="458.60" y1="470.20" x2="643.90" y2="470.20" stroke="#777" stroke-width="0.8" />
<line x1="458.10" y1="470.20" x2="458.10" y2="474.20" stroke="#777" stroke-width="0.8" />
<line x1="467.37" y1="470.20" x2="467.37" y2="472.70" stroke="#777" stroke-width="0.8" />
<line x1="476.64" y1="470.20" x2="476.64" y2="472.70" stroke="#777" stroke-width="0.8" />
<line x1="485.91" y1="470.20" x2="485.91" y2="472.70" stroke="#777" stroke-width="0.8" />
<line x1="495.18" y1="470.20" x2="495.18" y2="472.70" stroke="#777" stroke-width="0.8" />
<line x1="504.45" y1="470.20" x2="504.45" y2="474.20" stroke="#777" stroke-width="0.8" />
<line x1="513.72" y1="470.20" x2="513.72" y2="472.70" stroke="#777" stroke-width="0.8" />
<line x1="522.99" y1="470.20" x2="522.99" y2="472.70" stroke="#777" stroke-width="0.8" />
<line x1="532.26" y1="470.20" x2="532.26" y2="472.70" stroke="#777" stroke-width="0.8" />
<line x1="541.53" y1="470.20" x2="541.53" y2="472.70" stroke="#777" stroke-width="0.8" />
<line x1="550.80" y1="470.20" x2="550.80" y2="474.20" stroke="#777" stroke-width="0.8" />
<line x1="560.07" y1="470.20" x2="560.07" y2="472.70" stroke="#777" stroke-width="0.8" />
<line x1="569.34" y1="470.20" x2="569.34" y2="472.70" stroke="#777" stroke-width="0.8" />
<line x1="578.61" y1="470.20" x2="578.61" y2="472.70" stroke="#777" stroke-width="0.8" />
<line x1="587.88" y1="470.20" x2="587.88" y2="472.70" stroke="#777" stroke-width="0.8" />
<line x1="597.15" y1="470.20" x2="597.15" y2="474.20" stroke="#777" stroke-width="0.8" />
<line x1="606.42" y1="470.20" x2="606.42" y2="472.70" stroke="#777" stroke-width="0.8" />
<line x1="615.69" y1="470.20" x2="615.69" y2="472.70" stroke="#777" stroke-width="0.8" />
<line x1="624.96" y1="470.20" x2="624.96" y2="472.70" stroke="#777" stroke-width="0.8" />
<line x1="634.23" y1="470.20" x2="634.23" y2="472.70" stroke="#777" stroke-width="0.8" />
<line x1="643.50" y1="470.20" x2="643.50" y2="474.20" stroke="#777" stroke-width="0.8" />
<text x="458.1" y="492.7" font-family='"Liberation Serif", serif' font-size="14" fill="#555" text-anchor="middle" font-weight="normal" font-style="normal" >-100</text>
<text x="504.4" y="492.7" font-family='"Liberation Serif", serif' font-size="14" fill="#555" text-anchor="middle" font-weight="normal" font-style="normal" >-50</text>
<text x="550.8" y="492.7" font-family='"Liberation Serif", serif' font-size="14" fill="#555" text-anchor="middle" font-weight="normal" font-style="normal" >0</text>
<text x="597.1" y="492.7" font-family='"Liberation Serif", serif' font-size="14" fill="#555" text-anchor="middle" font-weight="normal" font-style="normal" >50</text>
<line x1="454.60" y1="350.70" x2="458.60" y2="350.70" stroke="#777" stroke-width="0.8" />
<line x1="456.10" y1="360.50" x2="458.60" y2="360.50" stroke="#777" stroke-width="0.8" />
<line x1="456.10" y1="370.29" x2="458.60" y2="370.29" stroke="#777" stroke-width="0.8" />
<line x1="456.10" y1="380.09" x2="458.60" y2="380.09" stroke="#777" stroke-width="0.8" />
<line x1="456.10" y1="389.88" x2="458.60" y2="389.88" stroke="#777" stroke-width="0.8" />
<line x1="454.60" y1="399.68" x2="458.60" y2="399.68" stroke="#777" stroke-width="0.8" />
<line x1="456.10" y1="409.47" x2="458.60" y2="409.47" stroke="#777" stroke-width="0.8" />
<line x1="456.10" y1="419.27" x2="458.60" y2="419.27" stroke="#777" stroke-width="0.8" />
<line x1="456.10" y1="429.06" x2="458.60" y2="429.06" stroke="#777" stroke-width="0.8" />
<line x1="456.10" y1="438.86" x2="458.60" y2="438.86" stroke="#777" stroke-width="0.8" />
<line x1="454.60" y1="448.65" x2="458.60" y2="448.65" stroke="#777" stroke-width="0.8" />
<line x1="456.10" y1="458.45" x2="458.60" y2="458.45" stroke="#777" stroke-width="0.8" />
<line x1="456.10" y1="468.24" x2="458.60" y2="468.24" stroke="#777" stroke-width="0.8" />
<text x="449.6" y="355.7" font-family='"Liberation Serif", serif' font-size="14.5" fill="#555" text-anchor="end" font-weight="normal" font-style="normal" >0</text>
<text x="449.6" y="404.7" font-family='"Liberation Serif", serif' font-size="14.5" fill="#555" text-anchor="end" font-weight="normal" font-style="normal" >50</text>
<text x="449.6" y="453.7" font-family='"Liberation Serif", serif' font-size="14.5" fill="#555" text-anchor="end" font-weight="normal" font-style="normal" >100</text>
<text x="551.2" y="510.2" font-family='"Liberation Serif", serif' font-size="14.5" fill="#555" text-anchor="middle"><tspan font-style="italic">x</tspan> (m)</text>
<text x="0" y="0" font-family='"Liberation Serif", serif' font-size="14.5" fill="#555" text-anchor="middle" transform="translate(422.1,411.7) rotate(-90)"><tspan font-style="italic">z</tspan> (m)</text>
<line x1="457.90" y1="533.20" x2="457.90" y2="651.10" stroke="#777" stroke-width="0.8" />
<line x1="457.90" y1="651.10" x2="633.10" y2="651.10" stroke="#777" stroke-width="0.8" />
<line x1="457.90" y1="651.10" x2="457.90" y2="655.10" stroke="#777" stroke-width="0.8" />
<line x1="466.66" y1="651.10" x2="466.66" y2="653.60" stroke="#777" stroke-width="0.8" />
<line x1="475.42" y1="651.10" x2="475.42" y2="653.60" stroke="#777" stroke-width="0.8" />
<line x1="484.18" y1="651.10" x2="484.18" y2="653.60" stroke="#777" stroke-width="0.8" />
<line x1="492.94" y1="651.10" x2="492.94" y2="653.60" stroke="#777" stroke-width="0.8" />
<line x1="501.70" y1="651.10" x2="501.70" y2="655.10" stroke="#777" stroke-width="0.8" />
<line x1="510.46" y1="651.10" x2="510.46" y2="653.60" stroke="#777" stroke-width="0.8" />
<line x1="519.22" y1="651.10" x2="519.22" y2="653.60" stroke="#777" stroke-width="0.8" />
<line x1="527.98" y1="651.10" x2="527.98" y2="653.60" stroke="#777" stroke-width="0.8" />
<line x1="536.74" y1="651.10" x2="536.74" y2="653.60" stroke="#777" stroke-width="0.8" />
<line x1="545.50" y1="651.10" x2="545.50" y2="655.10" stroke="#777" stroke-width="0.8" />
<line x1="554.26" y1="651.10" x2="554.26" y2="653.60" stroke="#777" stroke-width="0.8" />
<line x1="563.02" y1="651.10" x2="563.02" y2="653.60" stroke="#777" stroke-width="0.8" />
<line x1="571.78" y1="651.10" x2="571.78" y2="653.60" stroke="#777" stroke-width="0.8" />
<line x1="580.54" y1="651.10" x2="580.54" y2="653.60" stroke="#777" stroke-width="0.8" />
<line x1="589.30" y1="651.10" x2="589.30" y2="655.10" stroke="#777" stroke-width="0.8" />
<line x1="598.06" y1="651.10" x2="598.06" y2="653.60" stroke="#777" stroke-width="0.8" />
<line x1="606.82" y1="651.10" x2="606.82" y2="653.60" stroke="#777" stroke-width="0.8" />
<line x1="615.58" y1="651.10" x2="615.58" y2="653.60" stroke="#777" stroke-width="0.8" />
<line x1="624.34" y1="651.10" x2="624.34" y2="653.60" stroke="#777" stroke-width="0.8" />
<line x1="633.10" y1="651.10" x2="633.10" y2="655.10" stroke="#777" stroke-width="0.8" />
<text x="457.9" y="673.6" font-family='"Liberation Serif", serif' font-size="14" fill="#555" text-anchor="middle" font-weight="normal" font-style="normal" >-100</text>
<text x="545.5" y="673.6" font-family='"Liberation Serif", serif' font-size="14" fill="#555" text-anchor="middle" font-weight="normal" font-style="normal" >0</text>
<text x="633.1" y="673.6" font-family='"Liberation Serif", serif' font-size="14" fill="#555" text-anchor="middle" font-weight="normal" font-style="normal" >100</text>
<line x1="453.90" y1="533.20" x2="457.90" y2="533.20" stroke="#777" stroke-width="0.8" />
<line x1="455.40" y1="542.86" x2="457.90" y2="542.86" stroke="#777" stroke-width="0.8" />
<line x1="455.40" y1="552.53" x2="457.90" y2="552.53" stroke="#777" stroke-width="0.8" />
<line x1="455.40" y1="562.19" x2="457.90" y2="562.19" stroke="#777" stroke-width="0.8" />
<line x1="455.40" y1="571.86" x2="457.90" y2="571.86" stroke="#777" stroke-width="0.8" />
<line x1="453.90" y1="581.52" x2="457.90" y2="581.52" stroke="#777" stroke-width="0.8" />
<line x1="455.40" y1="591.18" x2="457.90" y2="591.18" stroke="#777" stroke-width="0.8" />
<line x1="455.40" y1="600.85" x2="457.90" y2="600.85" stroke="#777" stroke-width="0.8" />
<line x1="455.40" y1="610.51" x2="457.90" y2="610.51" stroke="#777" stroke-width="0.8" />
<line x1="455.40" y1="620.18" x2="457.90" y2="620.18" stroke="#777" stroke-width="0.8" />
<line x1="453.90" y1="629.84" x2="457.90" y2="629.84" stroke="#777" stroke-width="0.8" />
<line x1="455.40" y1="639.50" x2="457.90" y2="639.50" stroke="#777" stroke-width="0.8" />
<line x1="455.40" y1="649.17" x2="457.90" y2="649.17" stroke="#777" stroke-width="0.8" />
<text x="448.9" y="538.2" font-family='"Liberation Serif", serif' font-size="14.5" fill="#555" text-anchor="end" font-weight="normal" font-style="normal" >0</text>
<text x="448.9" y="586.5" font-family='"Liberation Serif", serif' font-size="14.5" fill="#555" text-anchor="end" font-weight="normal" font-style="normal" >50</text>
<text x="448.9" y="634.8" font-family='"Liberation Serif", serif' font-size="14.5" fill="#555" text-anchor="end" font-weight="normal" font-style="normal" >100</text>
<text x="545.5" y="691.1" font-family='"Liberation Serif", serif' font-size="14.5" fill="#555" text-anchor="middle"><tspan font-style="italic">x</tspan> (m)</text>
<text x="0" y="0" font-family='"Liberation Serif", serif' font-size="14.5" fill="#555" text-anchor="middle" transform="translate(421.4,594.2) rotate(-90)"><tspan font-style="italic">z</tspan> (m)</text>
<text x="550.3" y="345" font-family='"Liberation Serif", serif' font-size="14" fill="#000" text-anchor="middle" font-weight="bold" font-style="normal" >FEM</text>
<text x="545" y="528.7" font-family='"Liberation Serif", serif' font-size="14.5" fill="#000" text-anchor="middle" font-weight="bold" font-style="normal" >proposed method</text>
<linearGradient id="cb1" x1="0" y1="0" x2="0" y2="1"><stop offset="0.0" stop-color="#4a12ee"/><stop offset="0.06" stop-color="#3c1ce6"/><stop offset="0.12" stop-color="#2c22c4"/><stop offset="0.17" stop-color="#1a2ea4"/><stop offset="0.23" stop-color="#1a6cb8"/><stop offset="0.28" stop-color="#1a98d0"/><stop offset="0.33" stop-color="#14d6e0"/><stop offset="0.37" stop-color="#14d8d0"/><stop offset="0.4" stop-color="#14b890"/><stop offset="0.45" stop-color="#10a050"/><stop offset="0.49" stop-color="#0c8a18"/><stop offset="0.57" stop-color="#60b010"/><stop offset="0.65" stop-color="#f0f000"/><stop offset="0.74" stop-color="#ff9000"/><stop offset="0.83" stop-color="#ff1000"/><stop offset="1.0" stop-color="#cc0000"/></linearGradient>
<rect x="650.5" y="350.7" width="14.5" height="119.5" fill="url(#cb1)" stroke="#444" stroke-width="0.5"/>
<line x1="663.00" y1="350.70" x2="665.00" y2="350.70" stroke="#333" stroke-width="0.6" />
<text x="668.5" y="355.7" font-family='"Liberation Serif", serif' font-size="14.5" fill="#222" text-anchor="start" font-weight="normal" font-style="normal" >90</text>
<line x1="663.00" y1="374.60" x2="665.00" y2="374.60" stroke="#333" stroke-width="0.6" />
<text x="668.5" y="379.59999999999997" font-family='"Liberation Serif", serif' font-size="14.5" fill="#222" text-anchor="start" font-weight="normal" font-style="normal" >80</text>
<line x1="663.00" y1="398.50" x2="665.00" y2="398.50" stroke="#333" stroke-width="0.6" />
<text x="668.5" y="403.5" font-family='"Liberation Serif", serif' font-size="14.5" fill="#222" text-anchor="start" font-weight="normal" font-style="normal" >70</text>
<line x1="663.00" y1="422.40" x2="665.00" y2="422.40" stroke="#333" stroke-width="0.6" />
<text x="668.5" y="427.4" font-family='"Liberation Serif", serif' font-size="14.5" fill="#222" text-anchor="start" font-weight="normal" font-style="normal" >60</text>
<line x1="663.00" y1="446.30" x2="665.00" y2="446.30" stroke="#333" stroke-width="0.6" />
<text x="668.5" y="451.29999999999995" font-family='"Liberation Serif", serif' font-size="14.5" fill="#222" text-anchor="start" font-weight="normal" font-style="normal" >50</text>
<line x1="663.00" y1="470.20" x2="665.00" y2="470.20" stroke="#333" stroke-width="0.6" />
<text x="668.5" y="475.2" font-family='"Liberation Serif", serif' font-size="14.5" fill="#222" text-anchor="start" font-weight="normal" font-style="normal" >40</text>
<text x="657.75" y="342.3" font-family='"Liberation Serif", serif' font-size="14.5" fill="#222" text-anchor="middle" font-weight="normal" font-style="normal" >dB</text>
<linearGradient id="cb2" x1="0" y1="0" x2="0" y2="1"><stop offset="0.0" stop-color="#4a12ee"/><stop offset="0.06" stop-color="#3c1ce6"/><stop offset="0.12" stop-color="#2c22c4"/><stop offset="0.17" stop-color="#1a2ea4"/><stop offset="0.23" stop-color="#1a6cb8"/><stop offset="0.28" stop-color="#1a98d0"/><stop offset="0.33" stop-color="#14d6e0"/><stop offset="0.37" stop-color="#14d8d0"/><stop offset="0.4" stop-color="#14b890"/><stop offset="0.45" stop-color="#10a050"/><stop offset="0.49" stop-color="#0c8a18"/><stop offset="0.57" stop-color="#60b010"/><stop offset="0.65" stop-color="#f0f000"/><stop offset="0.74" stop-color="#ff9000"/><stop offset="0.83" stop-color="#ff1000"/><stop offset="1.0" stop-color="#cc0000"/></linearGradient>
<rect x="650.3" y="532.6" width="14.700000000000045" height="119.60000000000002" fill="url(#cb2)" stroke="#444" stroke-width="0.5"/>
<line x1="663.00" y1="532.60" x2="665.00" y2="532.60" stroke="#333" stroke-width="0.6" />
<text x="668.5" y="537.6" font-family='"Liberation Serif", serif' font-size="14.5" fill="#222" text-anchor="start" font-weight="normal" font-style="normal" >90</text>
<line x1="663.00" y1="556.52" x2="665.00" y2="556.52" stroke="#333" stroke-width="0.6" />
<text x="668.5" y="561.52" font-family='"Liberation Serif", serif' font-size="14.5" fill="#222" text-anchor="start" font-weight="normal" font-style="normal" >80</text>
<line x1="663.00" y1="580.44" x2="665.00" y2="580.44" stroke="#333" stroke-width="0.6" />
<text x="668.5" y="585.44" font-family='"Liberation Serif", serif' font-size="14.5" fill="#222" text-anchor="start" font-weight="normal" font-style="normal" >70</text>
<line x1="663.00" y1="604.36" x2="665.00" y2="604.36" stroke="#333" stroke-width="0.6" />
<text x="668.5" y="609.36" font-family='"Liberation Serif", serif' font-size="14.5" fill="#222" text-anchor="start" font-weight="normal" font-style="normal" >60</text>
<line x1="663.00" y1="628.28" x2="665.00" y2="628.28" stroke="#333" stroke-width="0.6" />
<text x="668.5" y="633.2800000000001" font-family='"Liberation Serif", serif' font-size="14.5" fill="#222" text-anchor="start" font-weight="normal" font-style="normal" >50</text>
<line x1="663.00" y1="652.20" x2="665.00" y2="652.20" stroke="#333" stroke-width="0.6" />
<text x="668.5" y="657.2" font-family='"Liberation Serif", serif' font-size="14.5" fill="#222" text-anchor="start" font-weight="normal" font-style="normal" >40</text>
<text x="657.65" y="524.3" font-family='"Liberation Serif", serif' font-size="14.5" fill="#222" text-anchor="middle" font-weight="normal" font-style="normal" >dB</text>
<text x="393.9" y="378.6" font-family='"Liberation Serif", serif' font-size="12.6" fill="#000" text-anchor="start" font-weight="bold" font-style="normal" >incident</text>
<path d="M386.8,385.2 H447 M399.8,385.2 V554.3 H447" fill="none" stroke="#000" stroke-width="1.3" stroke-dasharray="5,3.5"/>
<path d="M441,380.6 L449,385.2 L441,389.8" fill="none" stroke="#000" stroke-width="1.8"/>
<path d="M441,549.7 L449,554.3 L441,558.9" fill="none" stroke="#000" stroke-width="1.8"/>
<linearGradient id="bstr" x1="0" y1="350" x2="0" y2="438" gradientUnits="userSpaceOnUse"><stop offset="0" stop-color="#3c5cff" stop-opacity="0"/><stop offset="0.12" stop-color="#3c5cff" stop-opacity="0.9"/><stop offset="0.5" stop-color="#3050ff" stop-opacity="1"/><stop offset="0.88" stop-color="#3c5cff" stop-opacity="0.9"/><stop offset="1" stop-color="#3c5cff" stop-opacity="0"/></linearGradient>
<linearGradient id="rstr" x1="0" y1="356" x2="0" y2="429" gradientUnits="userSpaceOnUse"><stop offset="0" stop-color="#ff3c3c" stop-opacity="0"/><stop offset="0.2" stop-color="#ff3c3c" stop-opacity="0.85"/><stop offset="0.5" stop-color="#ff3030" stop-opacity="1"/><stop offset="0.8" stop-color="#ff3c3c" stop-opacity="0.85"/><stop offset="1" stop-color="#ff3c3c" stop-opacity="0"/></linearGradient>
<g filter="url(#mblur)"><rect x="363.8" y="356" width="2.4" height="73" fill="url(#rstr)"/><rect x="371.2" y="356" width="2.2" height="73" fill="url(#rstr)" opacity="0.8"/><rect x="367.3" y="350" width="2.9" height="88" fill="url(#bstr)"/></g>
<path d="M358.3,351 C370,364 379.5,377 379.5,392.5 C379.5,407 369,420 361,430.5 C359,433 358.5,435.5 358.5,440 L358.5,465.3" fill="none" stroke="#000" stroke-width="1"/>
<text x="0" y="0" font-family='"Liberation Serif", serif' font-size="13" font-weight="bold" fill="#000" text-anchor="middle" transform="translate(373.5,492.6) rotate(-90)">1<tspan font-size="8.5" dy="-4.5">st</tspan><tspan dy="4.5"> mode</tspan></text>
</svg></body></html>
